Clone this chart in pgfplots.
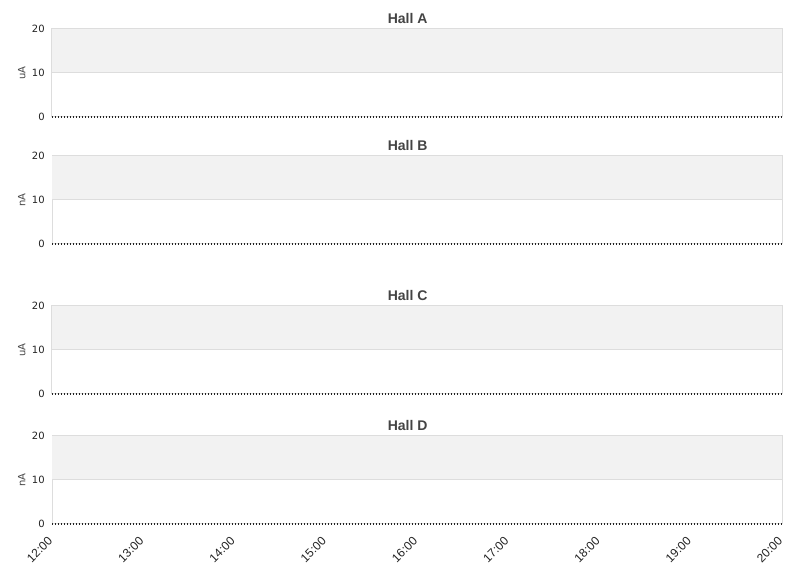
\documentclass[border=0pt]{standalone}
\usepackage{pgfplots}
\pgfplotsset{compat=1.18}
\usepackage{fontspec}
\setmainfont{DejaVu Sans}
\newfontfamily\arialfont{Liberation Sans}
\definecolor{bandgrey}{HTML}{F2F2F2}
\definecolor{gridgrey}{HTML}{DDDDDD}
\definecolor{titlegrey}{HTML}{444444}
\definecolor{tickgrey}{HTML}{222222}
\pgfplotsset{
  hallaxis/.style={
    scale only axis,
    width=547.5pt, height=66pt,
    xmin=0, xmax=8, ymin=0, ymax=20,
    ytick={0,10,20},
    xtick={0,1,2,3,4,5,6,7,8},
    xticklabels={},
    axis line style={gridgrey, line width=0.75pt},
    major tick length=0pt,
    ymajorgrids, grid style={gridgrey, line width=0.75pt},
    tick label style={font=\fontsize{7.5}{9}\selectfont, text=tickgrey},
    yticklabel style={xshift=-2pt},
    /pgf/number format/assume math mode=true,
    title style={font=\arialfont\bfseries\fontsize{10.5}{12}\selectfont, text=titlegrey, yshift=-5.5pt, xshift=-7pt},
    ylabel style={font=\fontsize{7.5}{9}\selectfont, text=titlegrey, yshift=-2pt},
    clip=false,
    anchor=south west,
  },
  zeroline/.style={tickgrey, line width=1.5pt, dash pattern=on 0.75pt off 1.5pt},
  band/.style={fill=bandgrey, draw=none},
}
\begin{document}
\begin{tikzpicture}
\useasboundingbox (0,0) rectangle (608.25pt,433.5pt);
% Hall A
\begin{axis}[hallaxis, at={(39pt,345.75pt)}, title={Hall A}, ylabel={uA}]
\addplot[band] coordinates {(0,10) (8,10) (8,20) (0,20)} -- cycle;
\addplot[gridgrey, line width=0.75pt] coordinates {(0,10) (8,10)};
\addplot[zeroline] coordinates {(0,0) (8,0)};
\end{axis}
% Hall B
\begin{axis}[hallaxis, at={(39pt,250.5pt)}, title={Hall B}, ylabel={nA}]
\addplot[band] coordinates {(0,10) (8,10) (8,20) (0,20)} -- cycle;
\addplot[gridgrey, line width=0.75pt] coordinates {(0,10) (8,10)};
\addplot[zeroline] coordinates {(0,0) (8,0)};
\end{axis}
% Hall C
\begin{axis}[hallaxis, at={(39pt,138pt)}, title={Hall C}, ylabel={uA}]
\addplot[band] coordinates {(0,10) (8,10) (8,20) (0,20)} -- cycle;
\addplot[gridgrey, line width=0.75pt] coordinates {(0,10) (8,10)};
\addplot[zeroline] coordinates {(0,0) (8,0)};
\end{axis}
% Hall D
\begin{axis}[hallaxis, at={(39pt,40.5pt)}, title={Hall D}, ylabel={nA},
  xticklabels={12:00,13:00,14:00,15:00,16:00,17:00,18:00,19:00,20:00},
  xticklabel style={font=\arialfont\fontsize{9}{10}\selectfont, rotate=45, anchor=east, xshift=-5.5pt, yshift=-7pt}]
\addplot[band] coordinates {(0,10) (8,10) (8,20) (0,20)} -- cycle;
\addplot[gridgrey, line width=0.75pt] coordinates {(0,10) (8,10)};
\addplot[zeroline] coordinates {(0,0) (8,0)};
\end{axis}
\end{tikzpicture}
\end{document}
